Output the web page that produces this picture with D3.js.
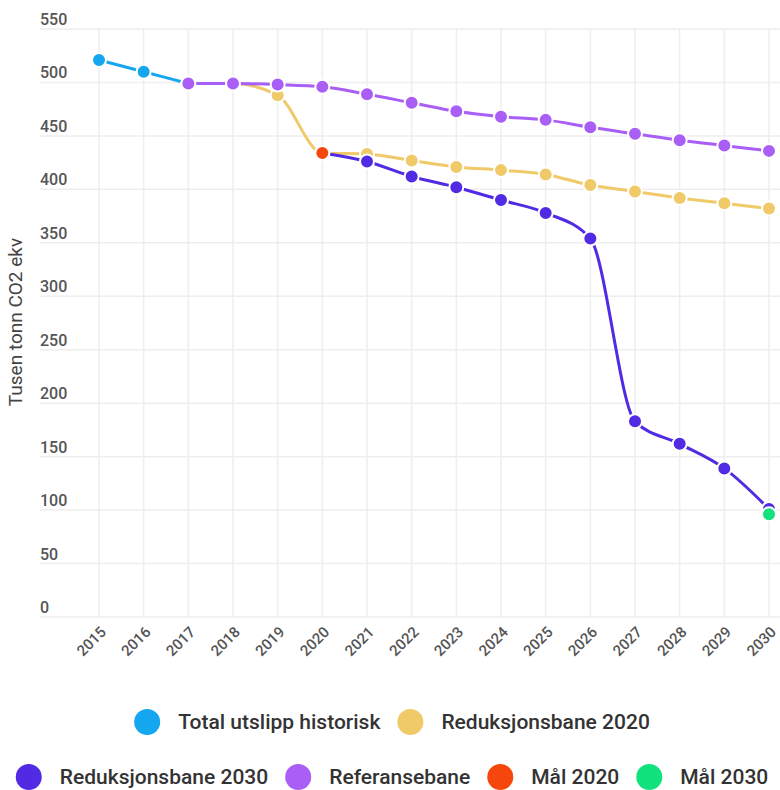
<!DOCTYPE html>
<html>
<head>
<meta charset="utf-8">
<script src="https://cdn.jsdelivr.net/npm/d3@7"></script>
<style>
  body { margin: 0; background: #fff; }
  svg { font-family: Roboto, "Noto Sans", sans-serif; }
</style>
</head>
<body>
<svg id="chart"></svg>
<script>
// years on the x axis
const years = d3.range(2015, 2031);
const yTicks = [0, 50, 100, 150, 200, 250, 300, 350, 400, 450, 500, 550];

// series values
const historisk = [[2015, 521], [2016, 510], [2017, 499]];
const reduksjon2020 = [[2017, 499], [2018, 499], [2019, 488], [2020, 434], [2021, 433], [2022, 427],
  [2023, 421], [2024, 418], [2025, 414], [2026, 404], [2027, 398], [2028, 392], [2029, 387], [2030, 382]];
const reduksjon2030 = [[2020, 434], [2021, 426], [2022, 412], [2023, 402], [2024, 390], [2025, 378],
  [2026, 354], [2027, 183], [2028, 162], [2029, 139], [2030, 101]];
const referanse = [[2017, 499], [2018, 499], [2019, 498], [2020, 496], [2021, 489], [2022, 481],
  [2023, 473], [2024, 468], [2025, 465], [2026, 458], [2027, 452], [2028, 446], [2029, 441], [2030, 436]];
const maal2020 = [[2020, 434]];
const maal2030 = [[2030, 96]];

const series = [
  { name: "Total utslipp historisk", color: "#14a7ef", data: historisk },
  { name: "Reduksjonsbane 2020", color: "#f0c969", data: reduksjon2020 },
  { name: "Reduksjonsbane 2030", color: "#512be4", data: reduksjon2030 },
  { name: "Referansebane", color: "#a95ef6", data: referanse },
  { name: "Mål 2020", color: "#f5470c", data: maal2020 },
  { name: "Mål 2030", color: "#12e27d", data: maal2030 }
];

const width = 780, height = 790;
const margin = { top: 29, right: 0, bottom: 173, left: 40 };

const svg = d3.select("#chart").attr("width", width).attr("height", height);

const x = d3.scaleLinear().domain([2015, 2030]).range([99, 769]);
const y = d3.scaleLinear().domain([0, 550]).range([617, 29]);

// grid
const grid = svg.append("g");
grid.selectAll(".hg").data(yTicks).join("line")
  .attr("x1", margin.left).attr("x2", width)
  .attr("y1", d => y(d)).attr("y2", d => y(d))
  .attr("stroke", "#eeeeee").attr("stroke-width", 1.5);
grid.selectAll(".vg").data(years).join("line")
  .attr("x1", d => x(d)).attr("x2", d => x(d))
  .attr("y1", y(550)).attr("y2", y(0))
  .attr("stroke", "#eeeeee").attr("stroke-width", 1.5);

// y tick labels sit above their gridline
svg.append("g").selectAll("text").data(yTicks).join("text")
  .attr("x", margin.left).attr("y", d => y(d) - 4)
  .attr("font-size", 16).attr("font-weight", 500).attr("fill", "#555")
  .text(d => d);

// x tick labels, rotated
svg.append("g").selectAll("text").data(years).join("text")
  .attr("transform", d => `translate(${x(d) + 8},${633}) rotate(-45)`)
  .attr("text-anchor", "end")
  .attr("font-size", 15).attr("font-weight", 500).attr("fill", "#555")
  .text(d => d);

// y axis title
svg.append("text")
  .attr("transform", `translate(22,322) rotate(-90)`)
  .attr("text-anchor", "middle")
  .attr("font-size", 19).attr("fill", "#444")
  .text("Tusen tonn CO2 ekv");

const line = d3.line()
  .x(d => x(d[0])).y(d => y(d[1]))
  .curve(d3.curveMonotoneX);

const plot = svg.append("g");
series.forEach(s => {
  const g = plot.append("g");
  if (s.data.length > 1) {
    g.append("path").datum(s.data)
      .attr("d", line)
      .attr("fill", "none")
      .attr("stroke", s.color)
      .attr("stroke-width", 3);
  }
  g.selectAll("circle").data(s.data).join("circle")
    .attr("cx", d => x(d[0])).attr("cy", d => y(d[1]))
    .attr("r", 7)
    .attr("fill", s.color)
    .attr("stroke", "#fff").attr("stroke-width", 2);
});

// legend, two centred rows
const rows = [[series[0], series[1]], [series[2], series[3], series[4], series[5]]];
const rowY = [722, 777];
rows.forEach((items, i) => {
  const lg = svg.append("g");
  let cx = 0;
  items.forEach(s => {
    const item = lg.append("g").attr("transform", `translate(${cx},0)`);
    item.append("circle").attr("cx", 13).attr("cy", 0).attr("r", 13).attr("fill", s.color);
    const t = item.append("text").attr("x", 44).attr("y", 7)
      .attr("font-size", 21).attr("font-weight", 500).attr("fill", "#333")
      .text(s.name);
    cx += 44 + t.node().getComputedTextLength() + 17;
  });
  const total = cx - 17;
  lg.attr("transform", `translate(${(width - total) / 2 + 2},${rowY[i]})`);
});
</script>
</body>
</html>
